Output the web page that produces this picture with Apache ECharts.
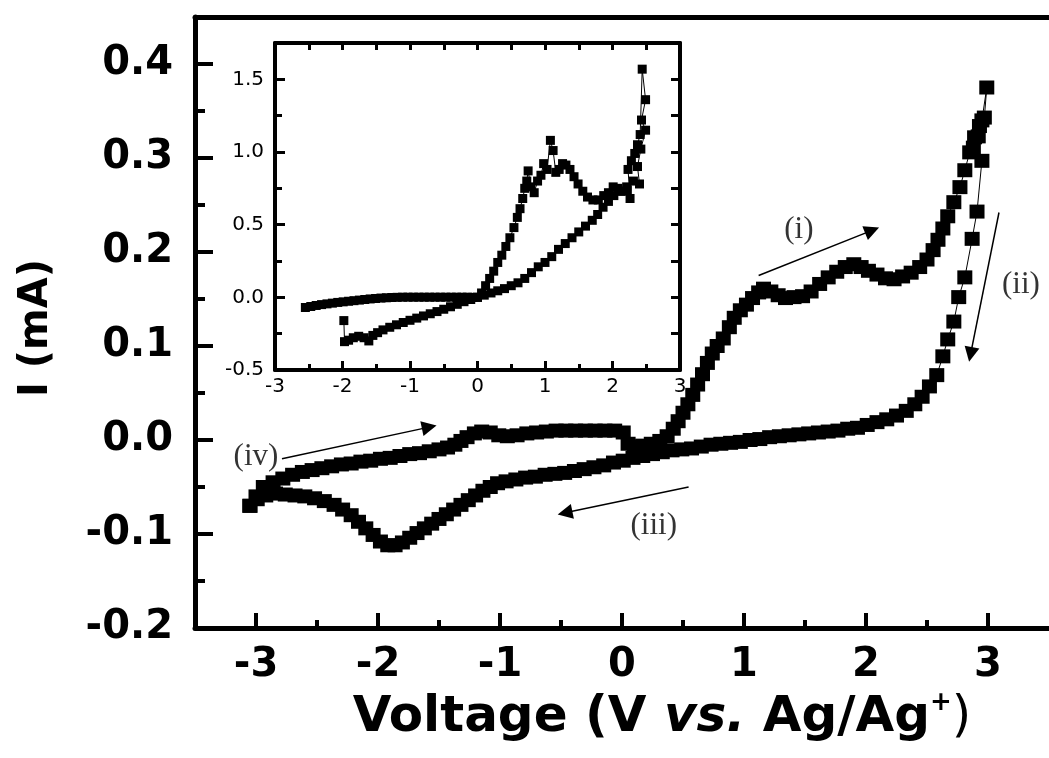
<!DOCTYPE html>
<html><head><meta charset="utf-8">
<script src="https://cdn.jsdelivr.net/npm/echarts@6/dist/echarts.min.js"></script>
<style>html,body{margin:0;padding:0;background:#fff}#c{width:1049px;height:758px}</style>
</head><body><div id="c"></div>
<script>
// ---------- tick values ----------
const mainXTicks = [-3, -2, -1, 0, 1, 2, 3];
const mainXMinor = [-3.5, -2.5, -1.5, -0.5, 0.5, 1.5, 2.5];
const mainYTicks = [-0.2, -0.1, 0, 0.1, 0.2, 0.3, 0.4];
const mainYMinor = [-0.15, -0.05, 0.05, 0.15, 0.25, 0.35];
const insetXTicks = [-3, -2, -1, 0, 1, 2, 3];
const insetXMinor = [-2.5, -1.5, -0.5, 0.5, 1.5, 2.5];
const insetYTicks = [-0.5, 0, 0.5, 1, 1.5];
const insetYMinor = [-0.25, 0.25, 0.75, 1.25];

// ---------- main CV curve (V, mA) ----------
const mainForward = [
[-3.05,-0.070],[-3.00,-0.060],[-2.94,-0.050],[-2.86,-0.045],[-2.78,-0.041],[-2.70,-0.037],[-2.62,-0.034],[-2.54,-0.032],
[-2.46,-0.030],[-2.38,-0.028],[-2.30,-0.026],[-2.22,-0.025],[-2.14,-0.023],[-2.06,-0.022],[-1.98,-0.020],[-1.90,-0.019],
[-1.82,-0.017],[-1.74,-0.015],[-1.66,-0.014],[-1.58,-0.012],[-1.50,-0.010],[-1.43,-0.008],[-1.37,-0.005],[-1.32,-0.001],
[-1.27,0.003],[-1.21,0.007],[-1.15,0.009],[-1.08,0.008],[-1.01,0.005],[-0.94,0.004],[-0.86,0.005],[-0.78,0.007],
[-0.70,0.008],[-0.62,0.009],[-0.54,0.010],[-0.46,0.010],[-0.38,0.010],[-0.30,0.010],[-0.22,0.010],[-0.14,0.010],
[-0.06,0.010],[0.01,0.008],[0.05,-0.004],[0.10,-0.007],[0.17,-0.006],[0.24,-0.004],[0.31,-0.001],[0.37,0.004],
[0.42,0.012],[0.46,0.020],[0.50,0.029],[0.54,0.038],[0.58,0.048],[0.62,0.059],[0.66,0.070],[0.70,0.082],
[0.74,0.092],[0.78,0.100],[0.83,0.108],[0.88,0.120],[0.92,0.130],[0.97,0.138],[1.02,0.144],[1.07,0.151],
[1.12,0.157],[1.16,0.161],[1.22,0.158],[1.28,0.154],[1.34,0.151],[1.41,0.152],[1.48,0.153],[1.55,0.158],
[1.62,0.166],[1.69,0.173],[1.76,0.179],[1.83,0.184],[1.90,0.187],[1.96,0.184],[2.02,0.180],[2.09,0.176],
[2.16,0.172],[2.23,0.171],[2.30,0.174],[2.37,0.178],[2.44,0.184],[2.50,0.192],[2.55,0.202],[2.59,0.213],
[2.63,0.225],[2.67,0.238],[2.72,0.253],[2.77,0.269],[2.81,0.287],[2.85,0.306],[2.89,0.322],[2.93,0.334],
[2.97,0.343],[2.99,0.375]
];
const mainReverse = [
[2.95,0.340],[2.92,0.323],[2.88,0.311],[2.95,0.297],[2.91,0.243],[2.87,0.214],[2.81,0.173],[2.76,0.152],
[2.72,0.126],[2.67,0.107],[2.63,0.089],[2.58,0.069],[2.52,0.057],[2.46,0.046],[2.40,0.038],[2.33,0.031],
[2.25,0.026],[2.17,0.022],[2.09,0.019],[2.01,0.016],[1.93,0.013],[1.85,0.012],[1.77,0.010],[1.69,0.009],
[1.61,0.008],[1.53,0.007],[1.45,0.006],[1.37,0.005],[1.29,0.004],[1.21,0.003],[1.13,0.001],[1.05,0.000],
[0.97,-0.002],[0.89,-0.003],[0.81,-0.004],[0.73,-0.005],[0.65,-0.007],[0.57,-0.009],[0.49,-0.010],[0.41,-0.011],
[0.33,-0.013],[0.25,-0.015],[0.17,-0.017],[0.09,-0.019],[0.01,-0.022],[-0.07,-0.024],[-0.15,-0.027],[-0.23,-0.029],
[-0.31,-0.031],[-0.39,-0.033],[-0.47,-0.035],[-0.55,-0.036],[-0.63,-0.037],[-0.71,-0.039],[-0.79,-0.040],[-0.87,-0.042],
[-0.95,-0.044],[-1.02,-0.046],[-1.08,-0.050],[-1.14,-0.054],[-1.20,-0.059],[-1.26,-0.064],[-1.32,-0.069],[-1.38,-0.074],
[-1.44,-0.079],[-1.50,-0.084],[-1.56,-0.089],[-1.62,-0.094],[-1.68,-0.099],[-1.74,-0.104],[-1.80,-0.109],[-1.86,-0.112],
[-1.92,-0.112],[-1.98,-0.108],[-2.04,-0.101],[-2.10,-0.094],[-2.16,-0.087],[-2.22,-0.080],[-2.29,-0.074],[-2.36,-0.069],
[-2.44,-0.065],[-2.52,-0.062],[-2.60,-0.060],[-2.68,-0.059],[-2.76,-0.058],[-2.84,-0.057],[-2.92,-0.059],[-2.99,-0.063],
[-3.05,-0.070]
];

// ---------- inset curve (V, mA) ----------
const insetLeft = [
[-2.55,-0.070],[-2.47,-0.063],[-2.39,-0.056],[-2.31,-0.050],[-2.23,-0.045],[-2.15,-0.040],[-2.07,-0.035],[-1.99,-0.031],
[-1.91,-0.027],[-1.83,-0.023],[-1.75,-0.019],[-1.67,-0.015],[-1.59,-0.011],[-1.51,-0.008],[-1.43,-0.005],[-1.35,-0.003],
[-1.27,-0.001],[-1.19,0.000],[-1.11,0.001],[-1.03,0.001],[-0.95,0.001],[-0.87,0.001],[-0.79,0.001],[-0.71,0.001],
[-0.63,0.001],[-0.55,0.001],[-0.47,0.001],[-0.39,0.001],[-0.31,0.001],[-0.23,0.001],[-0.15,0.001],[-0.07,0.000],[0.00,0.000]
];
const insetRise = [
[0.06,0.03],[0.12,0.08],[0.18,0.13],[0.24,0.18],[0.30,0.24],[0.36,0.29],[0.42,0.35],[0.48,0.41],[0.54,0.48],[0.59,0.55],
[0.63,0.61],[0.67,0.68],[0.70,0.75],[0.73,0.80],[0.75,0.87],[0.79,0.76],[0.84,0.72],[0.89,0.80],[0.94,0.84],[0.98,0.92],
[1.03,0.88],[1.08,1.08],[1.12,1.01],[1.16,0.86],[1.21,0.88],[1.26,0.92],[1.31,0.91],[1.37,0.88],[1.43,0.83],[1.49,0.78],
[1.56,0.73],[1.63,0.69],[1.71,0.67],[1.79,0.67],[1.87,0.70],[1.94,0.72],[2.01,0.76],[2.08,0.75],[2.15,0.73],[2.21,0.76],
[2.26,0.68],[2.23,0.88],[2.28,0.94],[2.33,0.99],[2.37,1.05],[2.41,1.12],[2.44,1.57]
];
const insetBack = [
[2.49,1.36],[2.43,1.22],[2.49,1.15],[2.42,1.02],[2.37,0.90],[2.40,0.78],[2.31,0.80],[2.22,0.74],[2.12,0.73],[2.02,0.70],
[1.94,0.66],[1.86,0.62],[1.78,0.57],[1.70,0.53],[1.60,0.49],[1.50,0.45],[1.40,0.41],[1.30,0.37],[1.20,0.33],[1.10,0.28],
[1.00,0.24],[0.90,0.21],[0.80,0.17],[0.70,0.13],[0.60,0.10],[0.50,0.08],[0.40,0.06],[0.30,0.045],[0.20,0.03],[0.10,0.015],
[0.00,0.000],[-0.10,-0.015],[-0.20,-0.030],[-0.30,-0.048],[-0.40,-0.065],[-0.50,-0.082],[-0.60,-0.098],[-0.70,-0.113],
[-0.80,-0.128],[-0.90,-0.143],[-1.00,-0.158],[-1.10,-0.173],[-1.20,-0.189],[-1.30,-0.206],[-1.40,-0.224],[-1.48,-0.243],
[-1.55,-0.262],[-1.61,-0.300],[-1.68,-0.278],[-1.76,-0.268],[-1.84,-0.278],[-1.91,-0.295],[-1.97,-0.305],[-1.98,-0.160]
];

// ---------- annotations (data coords of main plot) ----------
const annotNames = ['(i)', '(ii)', '(iii)', '(iv)'];
const annotPos = [[1.45, 0.224], [3.27, 0.165], [0.26, -0.091], [-3.0, -0.018]];
const arrowFrom = [[1.12, 0.175], [3.09, 0.242], [0.546, -0.050], [-2.787, -0.020]];
const arrowTo = [[2.05, 0.223], [2.857, 0.091], [-0.467, -0.0775], [-1.58, 0.0137]];

const BOLD = 'DejaVu Sans';
const chart = echarts.init(document.getElementById('c'));

function tickAxis(base) { return Object.assign({
  type: 'value', splitLine: {show: false}, axisLabel: {show: false},
  axisTick: {show: false}, axisLine: {show: false, onZero: false}, scale: false
}, base); }

const fmt1 = v => v.toFixed(1);

const option = {
  animation: false,
  backgroundColor: '#fff',
  grid: [
    {left: 195, top: 17, width: 860, height: 611, show: false},
    {left: 275, top: 43, width: 405, height: 327, show: true, backgroundColor: '#fff', borderWidth: 0, borderColor: 'transparent'}
  ],
  xAxis: [
    tickAxis({gridIndex: 0, position: 'bottom', min: -3.5, max: 3.5,
      axisLine: {show: true, onZero: false, lineStyle: {color: '#000', width: 5}},
      axisTick: {show: true, inside: true, length: 15, customValues: mainXTicks, lineStyle: {color: '#000', width: 4}},
      axisLabel: {show: true, customValues: mainXTicks, margin: 18, formatter: v => String(v),
        fontFamily: BOLD, fontWeight: 'bold', fontSize: 40, color: '#000'}}),
    tickAxis({gridIndex: 0, position: 'bottom', min: -3.5, max: 3.5,
      axisTick: {show: true, inside: true, length: 8, customValues: mainXMinor, lineStyle: {color: '#000', width: 4}}}),
    tickAxis({gridIndex: 0, position: 'top', min: -3.5, max: 3.5,
      axisLine: {show: true, onZero: false, lineStyle: {color: '#000', width: 5}}}),
    tickAxis({gridIndex: 1, position: 'bottom', min: -3, max: 3, z: 8,
      axisLine: {show: true, onZero: false, lineStyle: {color: '#000', width: 4}},
      axisTick: {show: true, inside: true, length: 9, customValues: insetXTicks, lineStyle: {color: '#000', width: 3}},
      axisLabel: {show: true, customValues: insetXTicks, margin: 7, formatter: v => String(v),
        fontFamily: 'DejaVu Sans', fontSize: 20, color: '#000'}}),
    tickAxis({gridIndex: 1, position: 'bottom', min: -3, max: 3, z: 8,
      axisTick: {show: true, inside: true, length: 6, customValues: insetXMinor, lineStyle: {color: '#000', width: 3}}}),
    tickAxis({gridIndex: 1, position: 'top', min: -3, max: 3, z: 8,
      axisLine: {show: true, onZero: false, lineStyle: {color: '#000', width: 4}},
      axisTick: {show: true, inside: true, length: 7, customValues: insetXTicks.concat(insetXMinor), lineStyle: {color: '#000', width: 3}}})
  ],
  yAxis: [
    tickAxis({gridIndex: 0, position: 'left', min: -0.2, max: 0.45,
      axisLine: {show: true, onZero: false, lineStyle: {color: '#000', width: 5}},
      axisTick: {show: true, inside: true, length: 18, customValues: mainYTicks, lineStyle: {color: '#000', width: 4}},
      axisLabel: {show: true, customValues: mainYTicks, margin: 22, formatter: fmt1,
        fontFamily: BOLD, fontWeight: 'bold', fontSize: 40, color: '#000'}}),
    tickAxis({gridIndex: 0, position: 'left', min: -0.2, max: 0.45,
      axisTick: {show: true, inside: true, length: 10, customValues: mainYMinor, lineStyle: {color: '#000', width: 4}}}),
    tickAxis({gridIndex: 1, position: 'left', min: -0.5, max: 1.75, z: 8,
      axisLine: {show: true, onZero: false, lineStyle: {color: '#000', width: 4}},
      axisTick: {show: true, inside: true, length: 10, customValues: insetYTicks, lineStyle: {color: '#000', width: 3}},
      axisLabel: {show: true, customValues: insetYTicks, margin: 11, formatter: fmt1,
        fontFamily: 'DejaVu Sans', fontSize: 20, color: '#000'}}),
    tickAxis({gridIndex: 1, position: 'left', min: -0.5, max: 1.75, z: 8,
      axisTick: {show: true, inside: true, length: 7, customValues: insetYMinor, lineStyle: {color: '#000', width: 3}}}),
    tickAxis({gridIndex: 1, position: 'right', min: -0.5, max: 1.75, z: 8,
      axisLine: {show: true, onZero: false, lineStyle: {color: '#000', width: 4}},
      axisTick: {show: true, inside: true, length: 9, customValues: insetYTicks.concat(insetYMinor), lineStyle: {color: '#000', width: 3}}})
  ],
  series: [
    {
      name: 'main', type: 'line', xAxisIndex: 0, yAxisIndex: 0,
      data: mainForward.concat(mainReverse),
      symbol: 'rect', symbolSize: [15, 14], showAllSymbol: true,
      itemStyle: {color: '#000'}, lineStyle: {color: '#000', width: 1},
      z: 3,
      markLine: {
        silent: true, animation: false,
        symbol: ['none', 'triangle'], symbolSize: 15,
        lineStyle: {color: '#000', width: 1.5, type: 'solid'},
        label: {show: false},
        data: arrowFrom.map((p, i) => [{coord: p}, {coord: arrowTo[i]}])
      }
    },
    {
      name: 'labels', type: 'scatter', xAxisIndex: 0, yAxisIndex: 0,
      data: annotNames.map((n, i) => ({name: n, value: annotPos[i]})),
      symbolSize: 2, itemStyle: {color: 'rgba(0,0,0,0)'},
      label: {show: true, position: 'inside', formatter: '{b}', fontFamily: 'Liberation Serif',
        fontSize: 31, color: '#000', fontWeight: 'normal'},
      z: 4
    },
    {
      name: 'inset', type: 'line', xAxisIndex: 3, yAxisIndex: 2,
      data: insetLeft.concat(insetRise, insetBack),
      symbol: 'rect', symbolSize: 9, showAllSymbol: true,
      itemStyle: {color: '#000'}, lineStyle: {color: '#000', width: 1},
      z: 6
    }
  ],
  graphic: [
    {type: 'text', x: 37, y: 328, rotation: Math.PI / 2, z: 10,
      style: {text: 'I (mA)', font: 'bold 40px "DejaVu Sans"', fill: '#000',
        textAlign: 'center', textVerticalAlign: 'middle', verticalAlign: 'middle'}},
    {type: 'text', x: 662, y: 718, z: 10,
      style: {
        text: '{b|Voltage (V }{i|vs.}{b| Ag/Ag}{s|+}{r|)}',
        textAlign: 'center', textVerticalAlign: 'middle', verticalAlign: 'middle', fill: '#000',
        rich: {
          b: {fontFamily: 'DejaVu Sans', fontWeight: 'bold', fontSize: 50, fill: '#000', lineHeight: 56},
          i: {fontFamily: 'DejaVu Sans', fontWeight: 'bold', fontStyle: 'italic', fontSize: 50, fill: '#000', lineHeight: 56},
          s: {fontFamily: 'DejaVu Sans', fontWeight: 'bold', fontSize: 26, fill: '#000', verticalAlign: 'top', lineHeight: 26},
          r: {fontFamily: 'DejaVu Sans', fontSize: 50, fill: '#000', lineHeight: 56}
        }
      }}
  ]
};
chart.setOption(option);
</script></body></html>
